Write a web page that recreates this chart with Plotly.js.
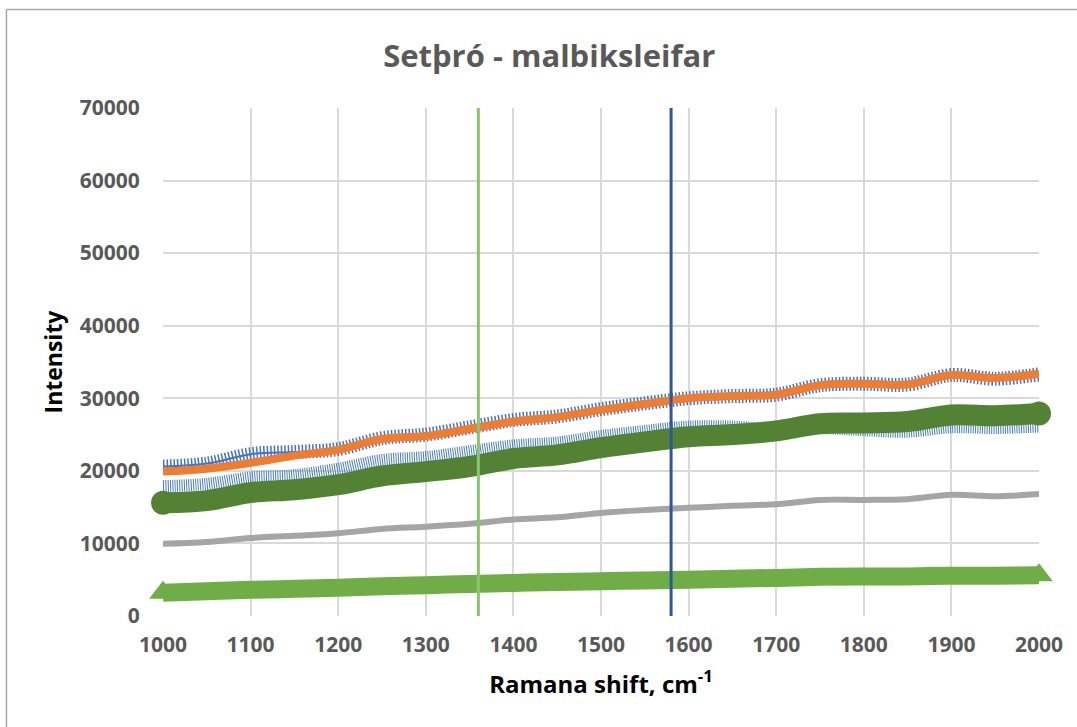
<!DOCTYPE html>
<html>
<head>
<meta charset="utf-8">
<script src="https://cdn.plot.ly/plotly-3.0.1.min.js"></script>
<style>
html,body{margin:0;padding:0;background:#fff;}
#chart{width:1077px;height:727px;}
</style>
</head>
<body>
<div id="chart"></div>
<script>
// Raman shift (cm-1)
const shift = [1000,1050,1100,1150,1200,1250,1300,1350,1400,1450,1500,1550,1600,1650,1700,1750,1800,1850,1900,1950,2000];
// Series values (intensity)
const blueBars   = [20600,21000,22300,22600,23000,24500,25000,26000,27000,27500,28500,29300,30000,30300,30500,31800,32000,31900,33200,32700,33300];
const orangeLine = [19900,20300,21100,22100,22900,24400,24800,25800,26800,27400,28400,29200,30000,30300,30500,31800,32000,31900,33200,32800,33400];
const lightBlue  = [17900,18200,19100,19400,20300,21500,21900,22700,23500,23900,24800,25500,26100,26100,25700,25900,25600,25400,26000,25900,26100];
const greenDots  = [15600,15900,17000,17400,18100,19300,19900,20600,21700,22200,23200,24000,24700,25000,25500,26500,26600,26800,27700,27600,27900];
const grayLine   = [9950,10200,10750,11050,11400,12000,12300,12700,13300,13600,14200,14600,14900,15200,15400,16000,16000,16100,16700,16500,16800];
const greenTri   = [3200,3400,3600,3750,3900,4100,4250,4400,4550,4700,4800,4900,5000,5150,5250,5400,5450,5450,5550,5550,5600];
// Reference band positions (cm-1) and axis range
const dBand = [1360,1360];
const gBand = [1580,1580];
const bandY = [0,70000];
const xTicks = [1000,1100,1200,1300,1400,1500,1600,1700,1800,1900,2000];
const yTicks = [0,10000,20000,30000,40000,50000,60000,70000];

const endSizes = (arr, s) => arr.map((v,i) => (i===0 || i===arr.length-1) ? s : 0);

const traces = [
  {x: shift, y: blueBars, mode:'lines', line:{color:'#4472C4', width:14, dash:'1.5px,2px', shape:'spline'}, hoverinfo:'skip'},
  {x: shift, y: blueBars, mode:'lines', line:{color:'#4472C4', width:2, shape:'spline'}},
  {x: shift, y: lightBlue, mode:'lines', line:{color:'#4A7EBB', width:12, dash:'1px,1.3px', shape:'spline'}},
  {x: shift, y: greenDots, mode:'lines+markers', cliponaxis:false, line:{color:'#548235', width:21, shape:'spline'},
   marker:{symbol:'circle', color:'#548235', opacity:1, line:{width:0}, size:endSizes(greenDots,24)}},
  {x: shift, y: orangeLine, mode:'lines', line:{color:'#ED7D31', width:8, shape:'spline'}},
  {x: shift, y: grayLine, mode:'lines', line:{color:'#A5A5A5', width:6, shape:'spline'}},
  {x: shift, y: greenTri, mode:'lines+markers', cliponaxis:false, line:{color:'#70AD47', width:18, shape:'spline'},
   marker:{symbol:'triangle-up', color:'#70AD47', opacity:1, line:{width:0}, size:endSizes(greenTri,24)}},
  {x: dBand, y: bandY, mode:'lines', line:{color:'#8CC372', width:3}},
  {x: gBand, y: bandY, mode:'lines', line:{color:'#2F55A0', width:3}}
];

const tickFont = {family:'Open Sans', size:21, color:'#595959', weight:'bold'};

const layout = {
  width:1077, height:727,
  margin:{l:163, r:38, t:108, b:111},
  paper_bgcolor:'#ffffff', plot_bgcolor:'#ffffff',
  showlegend:false,
  title:{text:'Setþró - malbiksleifar', font:{family:'Open Sans', size:31, color:'#595959', weight:'bold'},
         xref:'container', x:0.51, xanchor:'center', yref:'container', y:0.923, yanchor:'middle'},
  xaxis:{range:[1000,2000], tickvals:xTicks, ticktext:xTicks.map(String), showgrid:true, gridcolor:'#D9D9D9', gridwidth:2,
         zeroline:false, showline:false, ticks:'outside', ticklen:10, tickcolor:'rgba(0,0,0,0)', tickfont:tickFont,
         title:{text:'Ramana shift, cm<sup>-1</sup>', font:{family:'Open Sans', size:24, color:'#000000', weight:'bold'}, standoff:18}},
  yaxis:{range:[0,70000], tickvals:yTicks, ticktext:yTicks.map(String), showgrid:true, gridcolor:'#D9D9D9', gridwidth:2,
         zeroline:false, showline:false, ticks:'outside', ticklen:18, tickcolor:'rgba(0,0,0,0)', tickfont:tickFont,
         title:{text:'Intensity', font:{family:'Open Sans', size:23, color:'#000000', weight:'bold'}, standoff:10}},
  shapes:[
    {type:'line', xref:'paper', yref:'paper', x0:-0.1787, x1:-0.1787, y0:-0.22, y1:1.1939, line:{color:'#A6A6A6', width:1.5}},
    {type:'line', xref:'paper', yref:'paper', x0:-0.1787, x1:1.05, y0:1.1939, y1:1.1939, line:{color:'#A6A6A6', width:1.5}}
  ]
};

Plotly.newPlot('chart', traces, layout, {displayModeBar:false, staticPlot:true});
</script>
</body>
</html>
